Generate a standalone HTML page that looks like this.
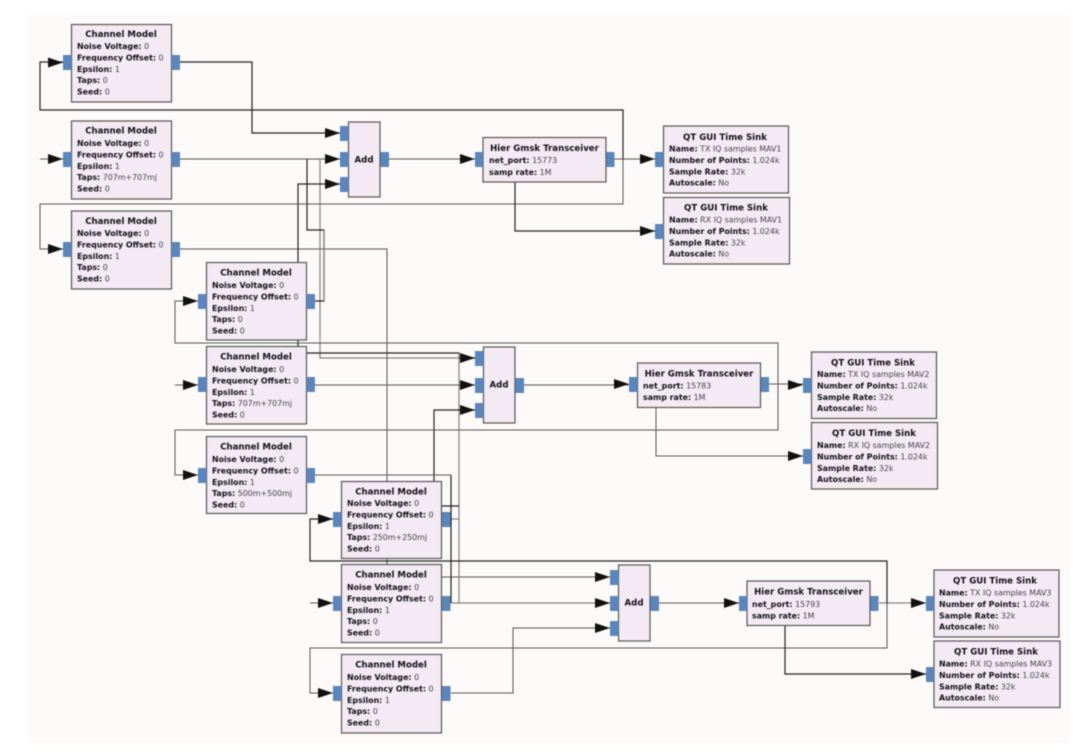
<!DOCTYPE html>
<html><head><meta charset="utf-8"><style>
html,body{margin:0;padding:0;background:#fff;width:1080px;height:753px;overflow:hidden}
svg{display:block;filter:blur(.55px)}
text{font-family:"DejaVu Sans","Liberation Sans",sans-serif;font-size:7.9px;fill:#444}
text b,tspan.b{font-weight:bold;fill:#111}
.t{font-weight:bold;fill:#111;text-anchor:middle;font-size:8.6px}
.c path{fill:none;stroke:#555;stroke-width:1}
.c path.d{stroke:#222;stroke-width:1.2}
.c path.l{stroke:#808080;stroke-width:1.2}
.b rect{fill:#f3eaf4;stroke:#555;stroke-width:1.2}
.p rect{fill:#5a86bd}
.a path{fill:#111}
</style></head><body>
<svg width="1080" height="753" viewBox="0 0 1080 753" xmlns="http://www.w3.org/2000/svg">
<rect x="28" y="15" width="1042" height="728" fill="#fffafa"/>
<g class="c">
<path class="d" d="M180 62H252V133H340"/>
<path d="M180 159H340"/>
<path d="M180 249H387V577H610"/>
<path class="l" d="M320 159V358H475"/>
<path class="d" d="M315 301H324V230H307V159"/>
<path class="l" d="M324 230V301"/>
<path class="d" d="M340 184H298V353H459V358H475"/>
<path class="l" d="M459 353V603"/>
<path d="M315 385H475"/>
<path class="d" d="M475 410H434V506H459"/>
<path class="l" d="M451 519H459"/>
<path d="M315 475H451"/>
<path class="d" d="M451 475V603"/>
<path class="l" d="M451 603H610"/>
<path d="M451 693H513V628H610"/>
<path d="M389 159H475"/>
<path d="M524 385H629"/>
<path d="M659 603H739"/>
<path d="M614 159H655"/>
<path d="M769 384H803"/>
<path class="l" d="M879 603H926"/>
<path class="d" d="M623 159V110H40V62H63"/>
<path d="M623 159V204H40V249H63"/>
<path d="M778 384V343H175V301H198"/>
<path d="M778 384V430H175V475H198"/>
<path class="d" d="M887 603V561H310V519H333"/>
<path d="M887 603V648H310V693H333"/>
<path class="d" d="M515 182V231H655"/>
<path d="M656 407V456H803"/>
<path class="d" d="M785 625V674H926"/>
<path d="M40 159H63"/>
<path d="M175 385H198"/>
<path d="M310 603H333"/>
</g>
<g class="b">
<rect x="71.500" y="24.500" width="100" height="77.500"/>
<rect x="71.500" y="121" width="100" height="78"/>
<rect x="71.500" y="211" width="100" height="78"/>
<rect x="206.500" y="262.500" width="100" height="77.500"/>
<rect x="206.500" y="346.500" width="100" height="77.500"/>
<rect x="206.500" y="436.500" width="100" height="77"/>
<rect x="341.500" y="481.500" width="100" height="77"/>
<rect x="341.500" y="564.500" width="100" height="78"/>
<rect x="341.500" y="654.500" width="100" height="78.500"/>
<rect x="348.500" y="122" width="31.500" height="75"/>
<rect x="483.500" y="347" width="31.500" height="76"/>
<rect x="618.500" y="565" width="31.500" height="76"/>
<rect x="483" y="137.500" width="123" height="44.500"/>
<rect x="637.500" y="363" width="123" height="44.500"/>
<rect x="747" y="581" width="123" height="44.500"/>
<rect x="663.500" y="126" width="125" height="67"/>
<rect x="663.500" y="197.500" width="126" height="66.500"/>
<rect x="811.500" y="352" width="125" height="66.500"/>
<rect x="811.500" y="422.500" width="126" height="66.500"/>
<rect x="934" y="570" width="125" height="67"/>
<rect x="934" y="641" width="126" height="66.500"/>
</g>
<g class="p">
<rect x="63" y="55" width="8.500" height="15"/><rect x="171.500" y="55" width="8.500" height="15"/>
<rect x="63" y="152" width="8.500" height="15"/><rect x="171.500" y="152" width="8.500" height="15"/>
<rect x="63" y="242" width="8.500" height="15"/><rect x="171.500" y="242" width="8.500" height="15"/>
<rect x="198" y="294" width="8.500" height="15"/><rect x="306.500" y="294" width="8.500" height="15"/>
<rect x="198" y="377" width="8.500" height="15"/><rect x="306.500" y="377" width="8.500" height="15"/>
<rect x="198" y="468" width="8.500" height="15"/><rect x="306.500" y="468" width="8.500" height="15"/>
<rect x="333" y="512" width="8.500" height="15"/><rect x="442" y="512" width="8.500" height="15"/>
<rect x="333" y="596" width="8.500" height="15"/><rect x="442" y="596" width="8.500" height="15"/>
<rect x="333" y="686" width="8.500" height="15"/><rect x="442" y="686" width="8.500" height="15"/>
<rect x="340" y="126" width="8.500" height="15"/><rect x="340" y="152" width="8.500" height="15"/><rect x="340" y="177" width="8.500" height="15"/><rect x="380.500" y="152" width="8.500" height="15"/>
<rect x="475" y="351" width="8.500" height="15"/><rect x="475" y="378" width="8.500" height="15"/><rect x="475" y="403" width="8.500" height="15"/><rect x="515.500" y="378" width="8.500" height="15"/>
<rect x="610" y="570" width="8.500" height="15"/><rect x="610" y="596" width="8.500" height="15"/><rect x="610" y="621" width="8.500" height="15"/><rect x="650.500" y="596" width="8.500" height="15"/>
<rect x="475" y="152" width="8" height="15"/><rect x="606.500" y="152" width="8" height="15"/>
<rect x="629" y="377" width="8.500" height="15"/><rect x="761" y="377" width="8" height="15"/>
<rect x="739" y="596" width="8" height="15"/><rect x="870.500" y="596" width="8" height="15"/>
<rect x="655" y="152" width="8.500" height="15"/><rect x="655" y="224" width="8.500" height="15"/>
<rect x="803" y="378" width="8.500" height="15"/><rect x="803" y="449" width="8.500" height="15"/>
<rect x="926" y="596" width="8" height="15"/><rect x="926" y="667" width="8" height="15"/>
</g>
<g class="a">
<path d="M48 57.500 63 62.500 48 67.500Z"/><path d="M48 154 63 159 48 164Z"/><path d="M48 244 63 249 48 254Z"/>
<path d="M183 296 198 301 183 306Z"/><path d="M183 380 198 385 183 390Z"/><path d="M183 470 198 475 183 480Z"/>
<path d="M318 514 333 519 318 524Z"/><path d="M318 598 333 603 318 608Z"/><path d="M318 688 333 693 318 698Z"/>
<path d="M325 128 340 133 325 138Z"/><path d="M325 154 340 159 325 164Z"/><path d="M325 179 340 184 325 189Z"/>
<path d="M460 353 475 358 460 363Z"/><path d="M460 380 475 385 460 390Z"/><path d="M460 405 475 410 460 415Z"/>
<path d="M595 572 610 577 595 582Z"/><path d="M595 598 610 603 595 608Z"/><path d="M595 623 610 628 595 633Z"/>
<path d="M460 154 475 159 460 164Z"/><path d="M614 379 629 384 614 389Z"/><path d="M724 598 739 603 724 608Z"/>
<path d="M640 154 655 159 640 164Z"/><path d="M640 226 655 231 640 236Z"/>
<path d="M788 380 803 385 788 390Z"/><path d="M788 451 803 456 788 461Z"/>
<path d="M911 598 926 603 911 608Z"/><path d="M911 669 926 674 911 679Z"/>
</g>
<g>
<text class="t" x="121" y="37">Channel Model</text>
<text x="77" y="49"><tspan class="b">Noise Voltage:</tspan> 0</text>
<text x="77" y="60.500"><tspan class="b">Frequency Offset:</tspan> 0</text>
<text x="77" y="72"><tspan class="b">Epsilon:</tspan> 1</text>
<text x="77" y="83"><tspan class="b">Taps:</tspan> 0</text>
<text x="77" y="94.500"><tspan class="b">Seed:</tspan> 0</text>

<text class="t" x="121" y="133.500">Channel Model</text>
<text x="77" y="146"><tspan class="b">Noise Voltage:</tspan> 0</text>
<text x="77" y="157.500"><tspan class="b">Frequency Offset:</tspan> 0</text>
<text x="77" y="169"><tspan class="b">Epsilon:</tspan> 1</text>
<text x="77" y="180"><tspan class="b">Taps:</tspan> 707m+707mj</text>
<text x="77" y="191.500"><tspan class="b">Seed:</tspan> 0</text>

<text class="t" x="121" y="224">Channel Model</text>
<text x="77" y="236"><tspan class="b">Noise Voltage:</tspan> 0</text>
<text x="77" y="247.500"><tspan class="b">Frequency Offset:</tspan> 0</text>
<text x="77" y="259"><tspan class="b">Epsilon:</tspan> 1</text>
<text x="77" y="270"><tspan class="b">Taps:</tspan> 0</text>
<text x="77" y="281.500"><tspan class="b">Seed:</tspan> 0</text>

<text class="t" x="256" y="275.500">Channel Model</text>
<text x="212" y="288"><tspan class="b">Noise Voltage:</tspan> 0</text>
<text x="212" y="299.500"><tspan class="b">Frequency Offset:</tspan> 0</text>
<text x="212" y="311"><tspan class="b">Epsilon:</tspan> 1</text>
<text x="212" y="322"><tspan class="b">Taps:</tspan> 0</text>
<text x="212" y="333.500"><tspan class="b">Seed:</tspan> 0</text>

<text class="t" x="256" y="359.500">Channel Model</text>
<text x="212" y="372"><tspan class="b">Noise Voltage:</tspan> 0</text>
<text x="212" y="383.500"><tspan class="b">Frequency Offset:</tspan> 0</text>
<text x="212" y="395"><tspan class="b">Epsilon:</tspan> 1</text>
<text x="212" y="406"><tspan class="b">Taps:</tspan> 707m+707mj</text>
<text x="212" y="417.500"><tspan class="b">Seed:</tspan> 0</text>

<text class="t" x="256" y="449.500">Channel Model</text>
<text x="212" y="462"><tspan class="b">Noise Voltage:</tspan> 0</text>
<text x="212" y="473.500"><tspan class="b">Frequency Offset:</tspan> 0</text>
<text x="212" y="485"><tspan class="b">Epsilon:</tspan> 1</text>
<text x="212" y="496"><tspan class="b">Taps:</tspan> 500m+500mj</text>
<text x="212" y="507.500"><tspan class="b">Seed:</tspan> 0</text>

<text class="t" x="391" y="494.500">Channel Model</text>
<text x="347" y="506"><tspan class="b">Noise Voltage:</tspan> 0</text>
<text x="347" y="517.500"><tspan class="b">Frequency Offset:</tspan> 0</text>
<text x="347" y="529"><tspan class="b">Epsilon:</tspan> 1</text>
<text x="347" y="540"><tspan class="b">Taps:</tspan> 250m+250mj</text>
<text x="347" y="551.500"><tspan class="b">Seed:</tspan> 0</text>

<text class="t" x="391" y="577.500">Channel Model</text>
<text x="347" y="590"><tspan class="b">Noise Voltage:</tspan> 0</text>
<text x="347" y="601.500"><tspan class="b">Frequency Offset:</tspan> 0</text>
<text x="347" y="613"><tspan class="b">Epsilon:</tspan> 1</text>
<text x="347" y="624"><tspan class="b">Taps:</tspan> 0</text>
<text x="347" y="635.500"><tspan class="b">Seed:</tspan> 0</text>

<text class="t" x="391" y="667.500">Channel Model</text>
<text x="347" y="680"><tspan class="b">Noise Voltage:</tspan> 0</text>
<text x="347" y="691.500"><tspan class="b">Frequency Offset:</tspan> 0</text>
<text x="347" y="703"><tspan class="b">Epsilon:</tspan> 1</text>
<text x="347" y="714"><tspan class="b">Taps:</tspan> 0</text>
<text x="347" y="725.500"><tspan class="b">Seed:</tspan> 0</text>

<text class="t" x="364" y="162.500">Add</text>
<text class="t" x="499" y="387.500">Add</text>
<text class="t" x="634" y="605.500">Add</text>

<text class="t" x="544.500" y="151">Hier Gmsk Transceiver</text>
<text x="489" y="163"><tspan class="b">net_port:</tspan> 15773</text>
<text x="489" y="175"><tspan class="b">samp rate:</tspan> 1M</text>

<text class="t" x="699" y="376.500">Hier Gmsk Transceiver</text>
<text x="643" y="388.500"><tspan class="b">net_port:</tspan> 15783</text>
<text x="643" y="400"><tspan class="b">samp rate:</tspan> 1M</text>

<text class="t" x="808.500" y="594.500">Hier Gmsk Transceiver</text>
<text x="752" y="607"><tspan class="b">net_port:</tspan> 15793</text>
<text x="752" y="618.500"><tspan class="b">samp rate:</tspan> 1M</text>

<text class="t" x="725" y="140">QT GUI Time Sink</text>
<text x="669" y="151.500"><tspan class="b">Name:</tspan> TX IQ samples MAV1</text>
<text x="669" y="163"><tspan class="b">Number of Points:</tspan> 1.024k</text>
<text x="669" y="174.500"><tspan class="b">Sample Rate:</tspan> 32k</text>
<text x="669" y="185.500"><tspan class="b">Autoscale:</tspan> No</text>

<text class="t" x="726" y="210.500">QT GUI Time Sink</text>
<text x="669" y="222.500"><tspan class="b">Name:</tspan> RX IQ samples MAV1</text>
<text x="669" y="234"><tspan class="b">Number of Points:</tspan> 1.024k</text>
<text x="669" y="245.500"><tspan class="b">Sample Rate:</tspan> 32k</text>
<text x="669" y="256.500"><tspan class="b">Autoscale:</tspan> No</text>

<text class="t" x="873" y="365.500">QT GUI Time Sink</text>
<text x="817" y="377"><tspan class="b">Name:</tspan> TX IQ samples MAV2</text>
<text x="817" y="388.500"><tspan class="b">Number of Points:</tspan> 1.024k</text>
<text x="817" y="400"><tspan class="b">Sample Rate:</tspan> 32k</text>
<text x="817" y="411"><tspan class="b">Autoscale:</tspan> No</text>

<text class="t" x="874" y="436">QT GUI Time Sink</text>
<text x="817" y="448"><tspan class="b">Name:</tspan> RX IQ samples MAV2</text>
<text x="817" y="459.500"><tspan class="b">Number of Points:</tspan> 1.024k</text>
<text x="817" y="471"><tspan class="b">Sample Rate:</tspan> 32k</text>
<text x="817" y="482"><tspan class="b">Autoscale:</tspan> No</text>

<text class="t" x="995" y="583.500">QT GUI Time Sink</text>
<text x="939" y="595.500"><tspan class="b">Name:</tspan> TX IQ samples MAV3</text>
<text x="939" y="607"><tspan class="b">Number of Points:</tspan> 1.024k</text>
<text x="939" y="618.500"><tspan class="b">Sample Rate:</tspan> 32k</text>
<text x="939" y="629.500"><tspan class="b">Autoscale:</tspan> No</text>

<text class="t" x="996" y="654.500">QT GUI Time Sink</text>
<text x="939" y="666.500"><tspan class="b">Name:</tspan> RX IQ samples MAV3</text>
<text x="939" y="678"><tspan class="b">Number of Points:</tspan> 1.024k</text>
<text x="939" y="689.500"><tspan class="b">Sample Rate:</tspan> 32k</text>
<text x="939" y="700.500"><tspan class="b">Autoscale:</tspan> No</text>
</g>
</svg>
</body></html>
